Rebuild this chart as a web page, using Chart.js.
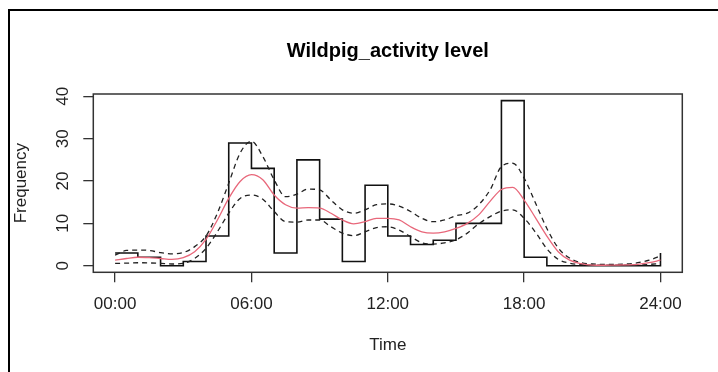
<!DOCTYPE html>
<html>
<head>
<meta charset="utf-8">
<script src="https://cdn.jsdelivr.net/npm/chart.js@4.4.1/dist/chart.umd.min.js"></script>
<style>
  html, body { margin: 0; padding: 0; background: #fff; overflow: hidden; }
  canvas { display: block; }
</style>
</head>
<body>
<canvas id="chart" width="718" height="372"></canvas>
<script>
// histograma horario (contagens por hora) + densidade com banda de confianca

const binHours = [0, 1, 2, 3, 4, 5, 6, 7, 8, 9, 10, 11, 12, 13, 14, 15, 16, 17, 18, 19, 20, 21, 22, 23, 24];
const counts   = [3, 2, 0, 1, 7, 29, 23, 3, 25, 11, 1, 19, 7, 5, 6, 10, 10, 39, 2, 0, 0, 0, 0, 0, 3];

const densHours = [0, 0.5, 1, 1.5, 2, 2.5, 3, 3.5, 4, 4.5, 5, 5.5, 6, 6.5, 7, 7.5, 8, 8.5, 9, 9.5,
  10, 10.5, 11, 11.5, 12, 12.5, 13, 13.5, 14, 14.5, 15, 15.5, 16, 16.5, 17, 17.5, 18, 18.5, 19, 19.5,
  20, 20.5, 21, 21.5, 22, 22.5, 23, 23.5, 24];
const densMean = [1.3, 1.7, 2.0, 1.9, 1.7, 1.5, 1.9, 3.3, 6.2, 10.8, 15.9, 19.9, 21.5, 20.3, 16.7, 14.4, 13.6, 13.7, 13.6, 12.4,
  10.8, 9.9, 10.4, 11.2, 11.2, 10.8, 9.2, 8.0, 7.7, 8.0, 8.8, 10.0, 12.0, 15.2, 18.0, 18.5, 15.5, 11.3, 7.0, 3.3,
  1.3, 0.5, 0.15, 0.1, 0.15, 0.2, 0.3, 0.7, 1.3];
const densUpper = [2.5, 3.6, 3.7, 3.6, 3.1, 2.8, 3.1, 4.5, 7.0, 12.4, 19.5, 26.6, 29.4, 25.8, 20.3, 16.3, 16.9, 18.1, 17.9, 15.5,
  13.2, 12.4, 13.2, 14.4, 14.6, 14.1, 12.8, 11.2, 10.4, 10.8, 11.8, 12.4, 14.4, 17.9, 23.4, 24.2, 20.7, 14.8, 8.8, 4.2,
  1.8, 0.7, 0.4, 0.3, 0.3, 0.4, 0.7, 1.3, 2.3];
const densLower = [0.55, 0.6, 0.7, 0.65, 0.55, 0.4, 0.55, 1.7, 4.1, 8.0, 12.4, 15.9, 16.7, 15.7, 12.8, 10.4, 10.3, 10.8, 10.8, 9.2,
  7.7, 7.1, 8.0, 9.0, 9.2, 8.4, 6.9, 5.4, 5.1, 5.4, 6.1, 7.7, 9.9, 11.6, 12.9, 13.2, 11.2, 7.9, 4.0, 1.5,
  0.6, 0.25, 0.1, 0.1, 0.1, 0.1, 0.15, 0.3, 0.55];

const xTickHours = [0, 6, 12, 18, 24];
const xTickLabels = ['00:00', '06:00', '12:00', '18:00', '24:00'];
const yTickValues = [0, 10, 20, 30, 40];

const pts = (xs, ys) => xs.map((x, i) => ({ x, y: ys[i] }));

// moldura externa (so topo e esquerda aparecem no recorte)
const outerFrame = {
  id: 'outerFrame',
  beforeDraw(chart) {
    const ctx = chart.ctx;
    ctx.save();
    ctx.strokeStyle = '#000';
    ctx.lineWidth = 2;
    ctx.beginPath();
    ctx.moveTo(9, 372);
    ctx.lineTo(9, 10);
    ctx.lineTo(718, 10);
    ctx.stroke();
    ctx.restore();
  },
};

// box() do R em volta da area do grafico
const plotBox = {
  id: 'plotBox',
  afterDraw(chart) {
    const { ctx, chartArea: a } = chart;
    ctx.save();
    ctx.strokeStyle = '#333';
    ctx.lineWidth = 1.5;
    ctx.strokeRect(a.left, a.top, a.right - a.left, a.bottom - a.top);
    ctx.restore();
  },
};

Chart.defaults.font.family = "'Liberation Sans', Arial, sans-serif";
Chart.defaults.color = '#222';

const dashed = { borderColor: '#222', borderWidth: 1.3, borderDash: [5, 4] };

new Chart(document.getElementById('chart'), {
  type: 'line',
  data: {
    datasets: [
      { data: pts(densHours, densMean), borderColor: '#e8677a', borderWidth: 1.3, cubicInterpolationMode: 'monotone' },
      { data: pts(densHours, densUpper), ...dashed, cubicInterpolationMode: 'monotone' },
      { data: pts(densHours, densLower), ...dashed, cubicInterpolationMode: 'monotone' },
      { data: pts(binHours, counts), borderColor: '#111', borderWidth: 1.6, stepped: true },
    ],
  },
  options: {
    responsive: false,
    animation: false,
    elements: { point: { radius: 0 } },
    layout: { padding: { left: 0, top: 0, right: 35.7, bottom: 0 } },
    plugins: {
      legend: { display: false },
      tooltip: { enabled: false },
      title: {
        display: true,
        text: 'Wildpig_activity level',
        fullSize: false,
        color: '#000',
        font: { size: 20, weight: 'bold' },
        padding: { top: 39, bottom: 31 },
      },
    },
    scales: {
      x: {
        type: 'linear',
        min: -0.96,
        max: 24.96,
        afterBuildTicks: (s) => { s.ticks = xTickHours.map((v) => ({ value: v })); },
        afterFit: (s) => { s.height = 99.7; },
        ticks: {
          autoSkip: false,
          maxRotation: 0,
          padding: 12,
          font: { size: 17 },
          callback: (v) => xTickLabels[xTickHours.indexOf(v)],
        },
        grid: { drawOnChartArea: false, tickLength: 10, color: '#333', lineWidth: 1.3 },
        border: { display: false },
        title: { display: true, text: 'Time', font: { size: 17 }, padding: { top: 0, bottom: 16 } },
      },
      y: {
        min: -1.56,
        max: 40.56,
        afterBuildTicks: (s) => { s.ticks = yTickValues.map((v) => ({ value: v })); },
        afterFit: (s) => { s.width = 93.3; },
        ticks: {
          autoSkip: false,
          minRotation: 90,
          maxRotation: 90,
          crossAlign: 'center',
          padding: 11,
          font: { size: 17 },
          callback: (v) => String(v),
        },
        grid: { drawOnChartArea: false, tickLength: 10, color: '#333', lineWidth: 1.3 },
        border: { display: false },
        title: { display: true, text: 'Frequency', font: { size: 17 }, padding: { top: 11, bottom: 0 } },
      },
    },
  },
  plugins: [outerFrame, plotBox],
});
</script>
</body>
</html>
